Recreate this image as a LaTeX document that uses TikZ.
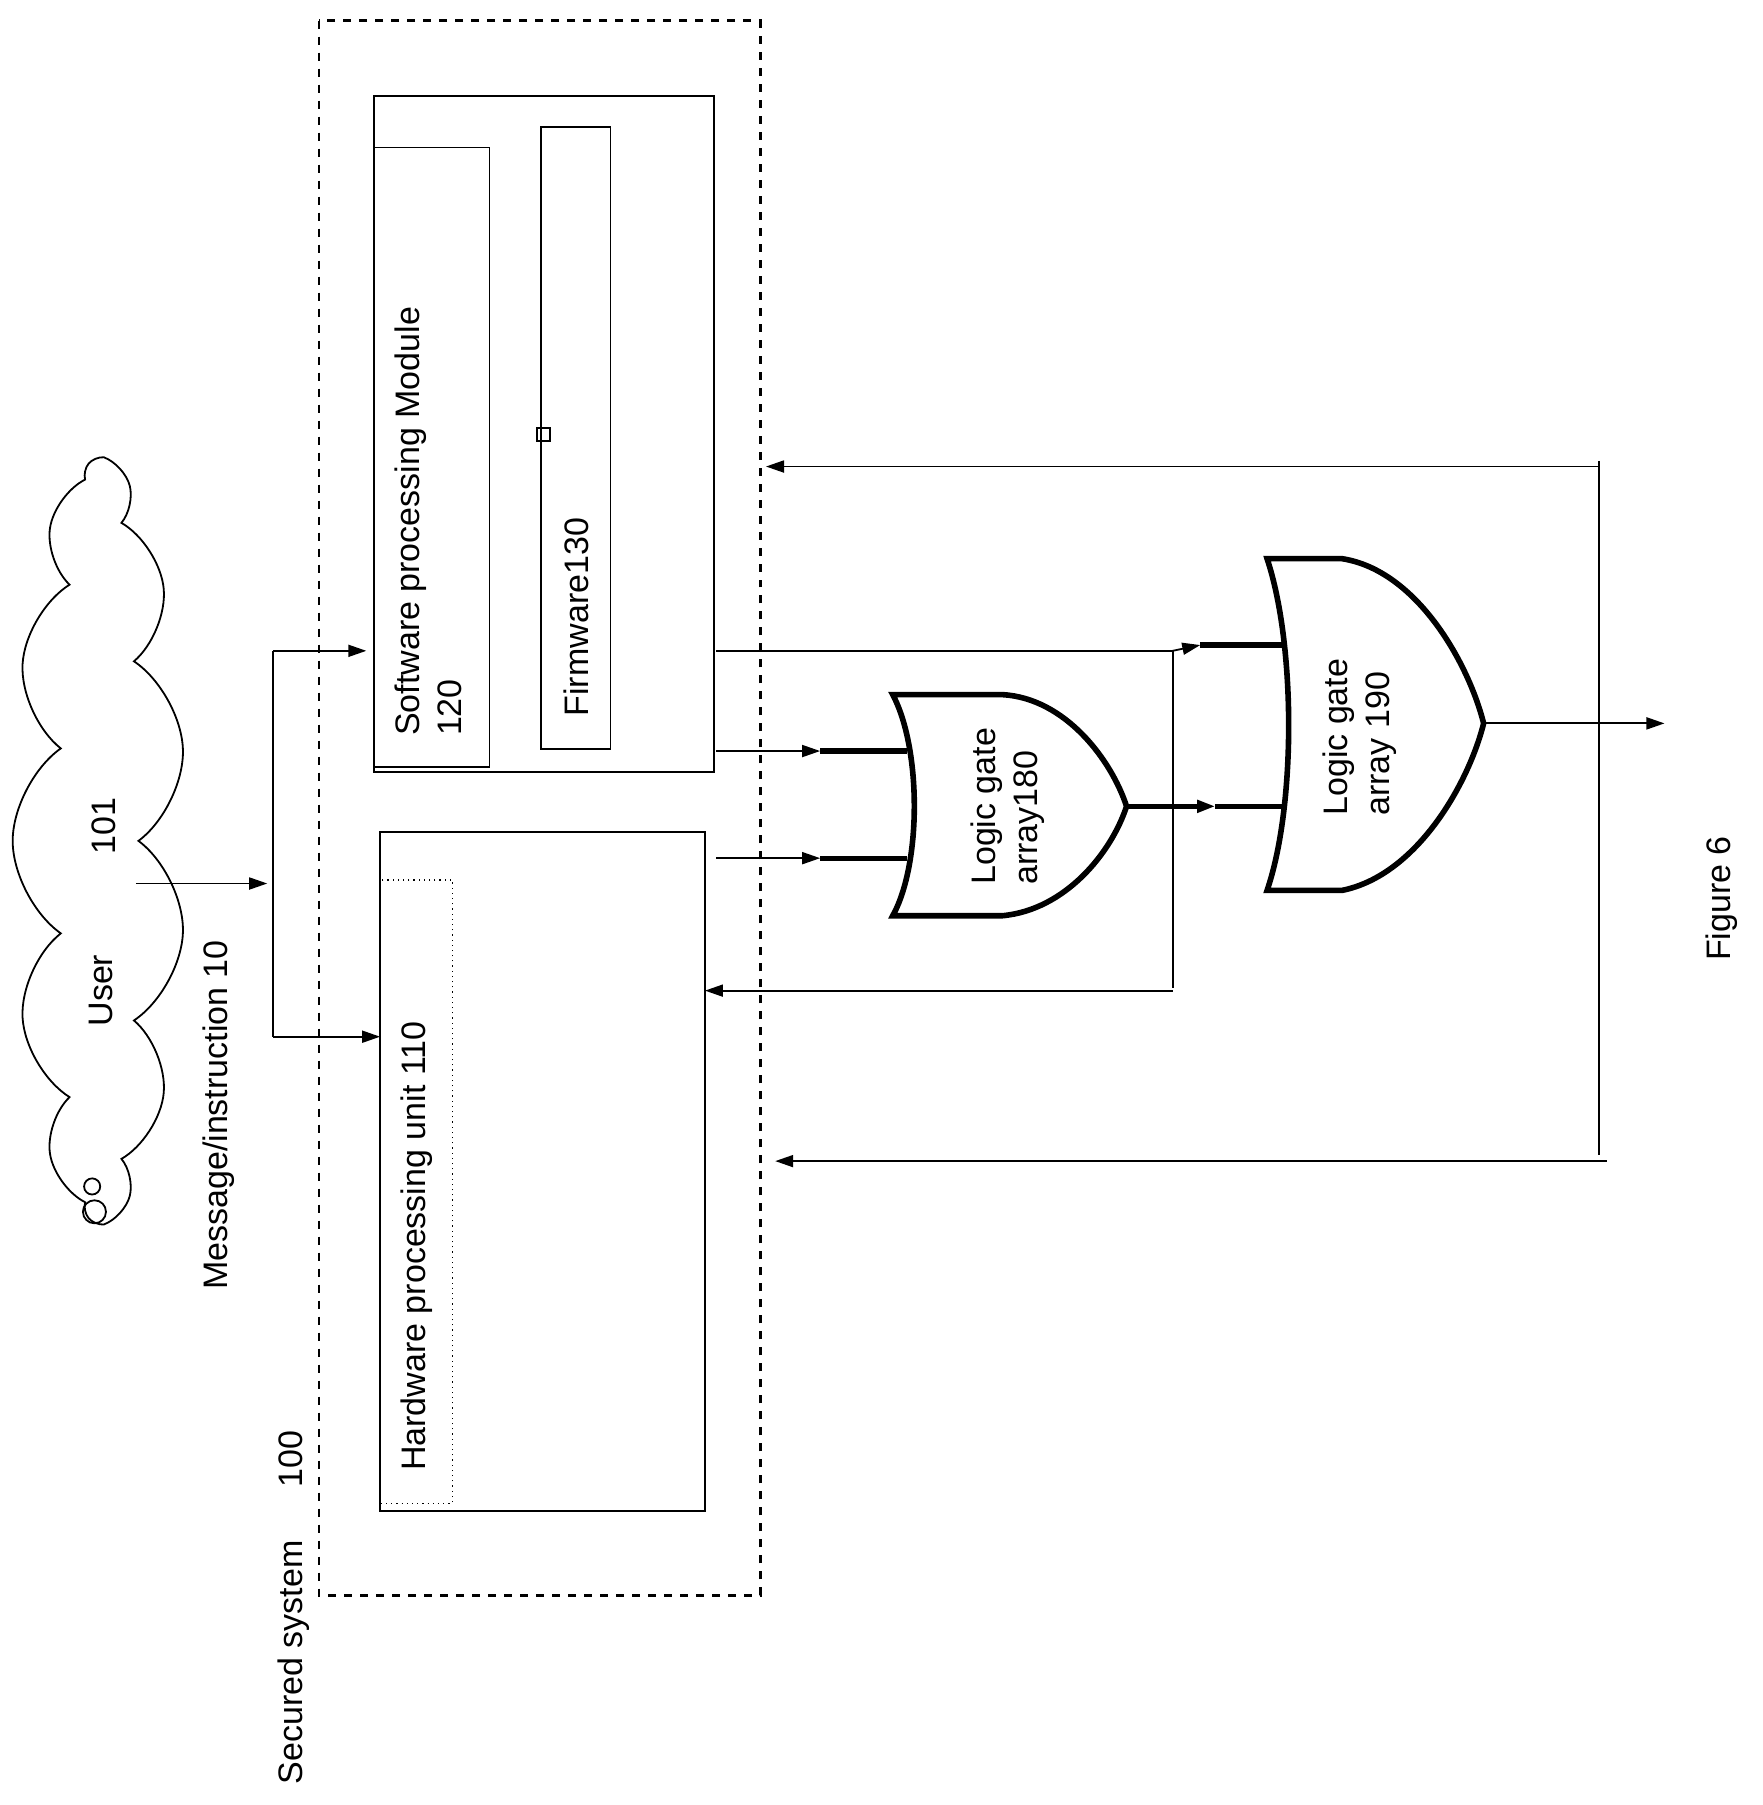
\documentclass[tikz,border=0pt]{standalone}
\usepackage{fontspec}
\setmainfont{Liberation Sans}
\usetikzlibrary{shapes.symbols,arrows.meta}
\begin{document}
\begin{tikzpicture}[x=0.576pt,y=-0.576pt,
  box/.style={draw,line width=0.9pt},
  thin/.style={line width=0.9pt},
  arr/.style={line width=0.9pt,-{Triangle[length=9pt,width=6pt]}},
  thick/.style={line width=2.6pt},
  gate/.style={draw,line width=2.8pt,fill=white},
  lbl/.style={font=\fontsize{17}{21}\selectfont,rotate=90,align=left}]
\useasboundingbox (0,0) rectangle (1530,1567);
% outer dashed
\draw[line width=1.4pt,dash pattern=on 4pt off 4pt] (277,18) rectangle (660,1385);
\node[rotate=90,anchor=west,font=\fontsize{17}{21}\selectfont] (sec) at (255,1555) {Secured system \quad\ 100};
% cloud
\node[cloud,draw,line width=0.9pt,cloud puffs=13,cloud puff arc=110,minimum width=680\pgflinewidth,inner sep=0pt,aspect=4.5,rotate=90,minimum height=150*0.576pt,minimum width=660*0.576pt] (cloud) at (86,730) {};
\draw[thin] (80,1030) circle (7);
\draw[thin] (82,1052) circle (10);
\node[lbl] (user) at (88,860) {User};
\node[lbl] (n101) at (90,717) {101};
\node[lbl] (msg) at (190,968) {Message/instruction 10};
% software
\node[box,minimum width=0pt] (sw) at (472,377) {};
\draw[box] (325,83) rectangle (620,670);
\draw[box] (325,128) rectangle (425,666);
\draw[box] (470,110) rectangle (530,650);
\node[lbl,anchor=north west] (swt) at (337,645) {Software processing Module\\120};
\node[lbl,anchor=north west] (fw) at (483,628) {Firmware130};
% hardware
\draw[box] (330,722) rectangle (612,1312);
\draw[line width=0.6pt,dotted] (330,764) rectangle (393,1305);
\node[lbl,anchor=north west] (hw) at (342,1283) {Hardware processing unit 110};
% input bus
\coordinate (c0) at (118,767);
\coordinate (c1) at (232,767);
\draw[arr] (c0) -- (c1);
\coordinate (b1) at (237,565);
\coordinate (b2) at (237,900);
\draw[thin] (b1) -- (b2);
\coordinate (sin) at (318,565);
\coordinate (hin) at (330,900);
\draw[arr] (b1) -- (sin);
\draw[arr] (b2) -- (hin);
% gate 180
\draw[gate] (775,603) .. controls (800,650) and (800,750) .. (775,795)
  -- (870,795) .. controls (925,790) and (965,740) .. (978,700)
  .. controls (965,660) and (925,606) .. (870,603) -- cycle;
\node[lbl] (g180) at (875,700) {Logic gate\\array180};
% gate 190
\draw[gate] (1100,485) .. controls (1125,560) and (1125,700) .. (1100,773)
  -- (1165,773) .. controls (1230,760) and (1275,680) .. (1288,628)
  .. controls (1275,576) and (1230,495) .. (1165,485) -- cycle;
\node[lbl] (g190) at (1180,640) {Logic gate\\array 190};
% inputs to 180
\coordinate (s1) at (622,652);
\coordinate (s1a) at (712,652);
\draw[arr] (s1) -- (s1a);
\draw[thick] (s1a) -- (787,652);
\coordinate (h1) at (622,745);
\coordinate (h1a) at (712,745);
\draw[arr] (h1) -- (h1a);
\draw[thick] (h1a) -- (787,745);
% 180 output to 190
\coordinate (o1a) at (1055,700);
\draw[line width=2.2pt,-{Triangle[length=9pt,width=6pt]}] (978,700) -- (o1a);
\draw[thick] (o1a) -- (1113,700);
% software to 190
\coordinate (s2) at (622,565);
\coordinate (j) at (1018,565);
\draw[thin] (s2) -- (j);
\coordinate (s2a) at (1042,560);
\draw[arr] (j) -- (s2a);
\draw[thick] (s2a) -- (1113,560);
\coordinate (j2) at (1018,858);
\coordinate (hfb) at (612,860);
\draw[thin] (j) -- (j2);
\draw[arr] (1018,860) -- (hfb);
% output
\coordinate (out) at (1445,628);
\draw[arr] (1288,628) -- (out);
% feedback
\coordinate (f1) at (1388,400);
\coordinate (f2) at (1388,1003);
\draw[thin] (f1) -- (f2);
\coordinate (fa) at (665,405);
\coordinate (fb) at (673,1008);
\draw[arr] (1388,405) -- (fa);
\draw[arr] (1395,1008) -- (fb);
\node[lbl] (fig) at (1495,780) {Figure 6};
\end{tikzpicture}
\end{document}
